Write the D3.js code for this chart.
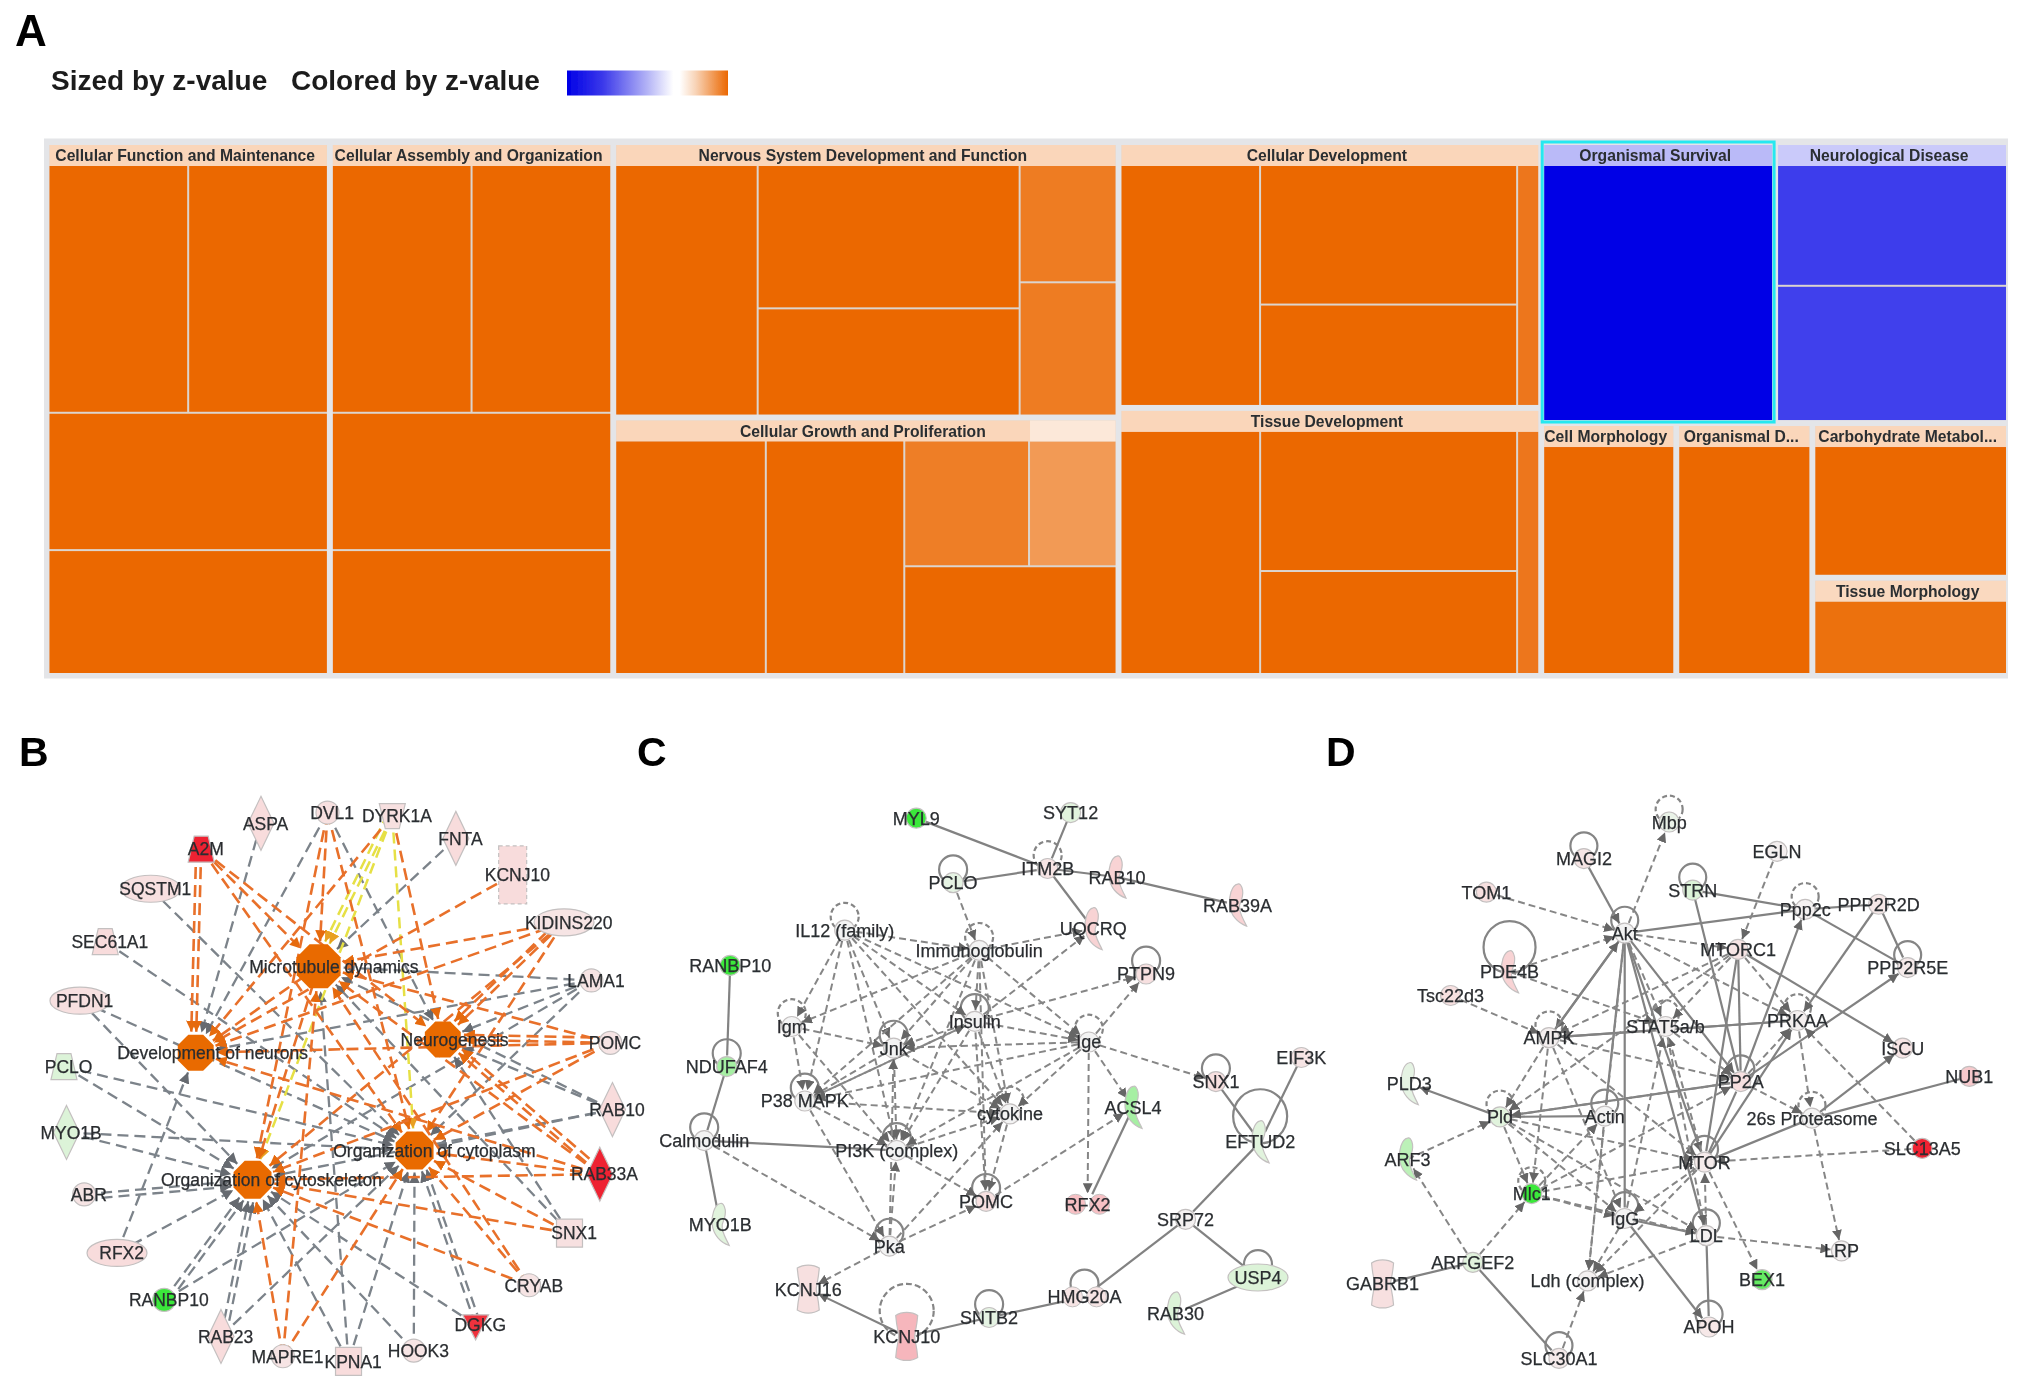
<!DOCTYPE html>
<html><head><meta charset="utf-8">
<script src="https://cdnjs.cloudflare.com/ajax/libs/d3/7.8.5/d3.min.js"></script>
<style>html,body{margin:0;background:#fff}svg{display:block}text{font-family:"Liberation Sans",Arial,sans-serif}</style>
</head><body><svg id="c" width="2031" height="1395"></svg>
<script>
// ---------- Panel A: treemap values ----------
const functionValues   = [69, 69, 76.5, 69];
const assemblyValues   = [69, 69, 76.5, 69];
const nervousValues    = [74.1, 78, 58.3, 23.6, 26.8];
const nervousZ         = [3, 3, 3, 2.6, 2.6];
const growthValues     = [73.5, 67.6, 32.8, 23, 47.8];
const growthZ          = [3, 3, 2.55, 2, 3];
const developmentValues= [70.2, 74.9, 54.4, 11.1];
const tissueValues     = [70.8, 75.1, 55.2, 11.2];
const sliverZ          = 2.7;
const survivalValues   = [123.15];
const neuroValues      = [58.1, 65.05];
const neuroZ           = [-2.3, -2.25];
const cellMorphValues  = [64];
const organismalValues = [64.5];
const carbValues       = [57];
const tissueMorphValues= [36.2];
const tissueMorphZ     = 2.8;
const groupTitles = ["Cellular Function and Maintenance","Cellular Assembly and Organization",
  "Nervous System Development and Function","Cellular Growth and Proliferation","Cellular Development",
  "Tissue Development","Organismal Survival","Neurological Disease","Cell Morphology","Organismal D...",
  "Carbohydrate Metabol...","Tissue Morphology"];

// ---------- Panels B, C, D: node tables [name, layoutX, layoutY, shape, expression, labelDx] ----------
const nodesB = [
 ["A2M",478,300,"trap",1],["ASPA",620,240,"diamond",.3],["DVL1",778,215,"circle",.25],["DYRK1A",932,222,"trapD",.25],
 ["FNTA",1083,275,"diamond",.3],["KCNJ10",1218,360,"dashrect",.3],["SQSTM1",358,392,"ellipse",.25],["KIDINS220",1340,470,"ellipse",.2],
 ["SEC61A1",250,515,"trap",.3],["LAMA1",1405,605,"circle",.2],["PFDN1",190,652,"ellipse",.25],["POMC",1450,750,"circle",.2],
 ["PCLO",152,805,"trap",-.25],["RAB10",1455,905,"diamond",.3],["MYO1B",158,958,"diamond",-.25],["RAB33A",1425,1055,"diamond",1],
 ["ABR",200,1102,"circle",.2],["SNX1",1353,1192,"square",.25],["RFX2",278,1238,"ellipse",.3],["CRYAB",1257,1313,"circle",.2],
 ["RANBP10",390,1347,"circle",-1],["DGKG",1130,1405,"triD",.95],["RAB23",525,1432,"diamond",.3],["MAPRE1",672,1478,"circle",.2],
 ["KPNA1",828,1490,"square",.3],["HOOK3",983,1465,"circle",.2]];
const hubsB = [
 ["Microtubule dynamics",757,572,"hub",22,36],["Development of neurons",465,773,"hub",18,40],["Neurogenesis",1052,742,"hub",18,28],
 ["Organization of cytoplasm",985,1000,"hub",19,47],["Organization of cytoskeleton",600,1068,"hub",19,45]];
const [MD,DN,NG,OC,OS] = hubsB.map(h=>h[0]);
const orangeB = [
 ["A2M",DN],["A2M",DN],["A2M",MD],["A2M",NG],["A2M",OC],["DVL1",MD],["DVL1",OC],["DVL1",OS],["DYRK1A",DN],["DYRK1A",NG],
 ["KCNJ10",DN],["KIDINS220",MD],["KIDINS220",DN],["KIDINS220",NG],["KIDINS220",NG],["KIDINS220",OC],["KIDINS220",OS],
 ["POMC",MD],["POMC",DN],["POMC",NG],["POMC",NG],["POMC",OC],["POMC",OS],["RAB33A",MD],["RAB33A",NG],["RAB33A",NG],["RAB33A",DN],["RAB33A",OC],["RAB33A",OS],
 ["SNX1",OC],["SNX1",OS],["CRYAB",MD],["CRYAB",OC],["CRYAB",OS],["MAPRE1",MD],["MAPRE1",OC],["MAPRE1",OS],
 [MD,OS],[MD,DN]];
const yellowB = [["DYRK1A",MD],["DYRK1A",OS],["DYRK1A",OC],["DYRK1A",MD]];
const greyB = [
 ["ASPA",DN],["FNTA",MD],["SQSTM1",OC],["SEC61A1",OC],["LAMA1",MD],["LAMA1",DN],["LAMA1",NG],["LAMA1",OC],["LAMA1",OS],
 ["PFDN1",OS],["PFDN1",OC],["PCLO",OS],["PCLO",OC],["RAB10",NG],["RAB10",MD],["RAB10",OC],["RAB10",OS],["MYO1B",OS],["MYO1B",OC],
 ["ABR",OS],["ABR",OS],["RFX2",DN],["RFX2",OS],["RANBP10",OS],["RANBP10",OS],["RANBP10",OC],["DGKG",OC],["DGKG",OC],["DGKG",OS],
 ["RAB23",OS],["RAB23",OS],["RAB23",OC],["KPNA1",OS],["KPNA1",OC],["KPNA1",MD],["HOOK3",OC],["HOOK3",OS],["SNX1",MD],["SNX1",NG],["DVL1",DN],["DVL1",NG]];

const nodesC = [
 ["MYL9",637,228,"circle",-1],["SYT12",993,215,"circle",-.2],["ITM2B",940,345,"circle",.2],["PCLO",722,378,"circle",-.15],
 ["RAB10",1100,365,"crescent",.35],["RAB39A",1378,430,"crescent",.35],["IL12 (family)",472,488,"circle",0],["Immunoglobulin",782,535,"circle",0],
 ["UQCRQ",1045,485,"crescent",.35],["RANBP10",208,570,"circle",-1],["PTPN9",1167,590,"circle",.25],["Igm",350,712,"circle",0],
 ["Insulin",772,700,"circle",0],["Jnk",585,762,"circle",0],["Ige",1035,748,"circle",0],["NDUFAF4",200,805,"circle",-.5],
 ["SNX1",1328,840,"circle",.25],["EIF3K",1525,784,"circle",.2],["P38 MAPK",380,885,"circle",0],["cytokine",853,915,"circle",0],
 ["ACSL4",1137,900,"crescent",-.5],["Calmodulin",148,977,"circle",0],["PI3K (complex)",592,1000,"circle",0],["EFTUD2",1430,980,"crescent",-.2],
 ["POMC",798,1118,"circle",.25],["RFX2",1032,1125,"double",.45],["MYO1B",185,1172,"crescent",-.2],["SRP72",1258,1160,"circle",.03],
 ["Pka",575,1222,"circle",0],["KCNJ16",388,1322,"hourglass",.25],["USP4",1425,1295,"ellipse",-.25],["HMG20A",1025,1340,"double",.2],
 ["SNTB2",805,1388,"circle",-.15],["RAB30",1235,1378,"crescent",-.25],["KCNJ10",615,1432,"hourglass",.5]];
const linksC = [["MYL9","ITM2B"],["SYT12","ITM2B"],["PCLO","ITM2B"],["ITM2B","RAB10"],["RAB10","RAB39A"],["ITM2B","UQCRQ"],
 ["RANBP10","NDUFAF4"],["NDUFAF4","Calmodulin"],["Calmodulin","MYO1B"],["Calmodulin","PI3K (complex)"],["SNX1","EFTUD2"],["EIF3K","EFTUD2"],
 ["EFTUD2","SRP72"],["SRP72","HMG20A"],["SRP72","USP4"],["USP4","RAB30"],["HMG20A","SNTB2"],["SNTB2","KCNJ10"],["ACSL4","RFX2"]];
const solidArrowsC = [["KCNJ10","KCNJ16"]];
const dashedC = [["PCLO","Immunoglobulin"],["Immunoglobulin","UQCRQ"],["IL12 (family)","Immunoglobulin"],["Insulin","UQCRQ"],
 ["IL12 (family)","Igm"],["IL12 (family)","Jnk"],["IL12 (family)","Insulin"],["IL12 (family)","P38 MAPK"],["IL12 (family)","PI3K (complex)"],["IL12 (family)","cytokine"],["IL12 (family)","Ige"],
 ["Immunoglobulin","Igm"],["Immunoglobulin","Jnk"],["Immunoglobulin","Insulin"],["Immunoglobulin","P38 MAPK"],["Immunoglobulin","PI3K (complex)"],["Immunoglobulin","cytokine"],["Immunoglobulin","Ige"],["Immunoglobulin","POMC"],
 ["Insulin","Jnk"],["Insulin","P38 MAPK"],["Insulin","PI3K (complex)"],["Insulin","cytokine"],["Insulin","POMC"],["Insulin","PTPN9"],["Insulin","Ige"],
 ["Ige","PTPN9"],["Ige","SNX1"],["Ige","ACSL4"],["Ige","RFX2"],["Ige","cytokine"],["Ige","Jnk"],["Ige","P38 MAPK"],["Ige","PI3K (complex)"],
 ["Igm","Jnk"],["Igm","P38 MAPK"],["Igm","PI3K (complex)"],["Jnk","P38 MAPK"],["Jnk","PI3K (complex)"],["Jnk","cytokine"],["Pka","Jnk"],
 ["P38 MAPK","PI3K (complex)"],["P38 MAPK","cytokine"],["P38 MAPK","Pka"],["PI3K (complex)","cytokine"],["Pka","PI3K (complex)"],["PI3K (complex)","POMC"],
 ["cytokine","POMC"],["Pka","cytokine"],["Pka","POMC"],["Pka","KCNJ16"],["Calmodulin","Pka"],["POMC","ACSL4"],["P38 MAPK","Insulin"]];
const solidLoopsC = ["PCLO","PTPN9","Insulin","Jnk","NDUFAF4","SNX1","P38 MAPK","Calmodulin","PI3K (complex)","POMC","Pka","USP4","HMG20A","SNTB2"];
const dashedLoopsC = ["ITM2B","IL12 (family)","Immunoglobulin","Igm","Ige","cytokine"];
const bigSolidLoopsC = ["EFTUD2"];
const bigDashedLoopsC = ["KCNJ10"];

const nodesD = [
 ["Mbp",770,237,"circle",-.1],["MAGI2",582,322,"circle",.2],["EGLN",1008,305,"circle",.05],["TOM1",367,400,"circle",.25],
 ["STRN",822,395,"circle",-.25],["Ppp2c",1070,440,"circle",.03],["PPP2R2D",1232,428,"circle",.15],["Akt",672,495,"circle",0],
 ["MTORC1",922,533,"circle",.2],["PDE4B",418,585,"crescent",.35],["PPP2R5E",1296,575,"circle",.12],["Tsc22d3",288,640,"circle",.25],
 ["AMPK",505,738,"circle",.05],["STAT5a/b",762,712,"circle",.03],["PRKAA",1053,698,"circle",.05],["ISCU",1285,762,"circle",.2],
 ["PLD3",197,845,"crescent",-.15],["PP2A",928,840,"circle",.25],["NUB1",1432,828,"circle",.4],["Pld",397,922,"circle",-.2],
 ["Actin",628,920,"circle",0],["26s Proteasome",1085,925,"circle",0],["ARF3",193,1020,"crescent",-.4],["MTOR",848,1027,"circle",.1],
 ["SLC13A5",1328,995,"circle",1],["Mlc1",467,1100,"circle",-1],["IgG",672,1158,"circle",0],["LDL",852,1198,"circle",.03],
 ["LRP",1150,1233,"circle",.03],["ARFGEF2",337,1260,"circle",-.2],["BEX1",975,1300,"circle",-.8],["Ldh (complex)",590,1303,"circle",.03],
 ["GABRB1",138,1310,"hourglass",.25],["APOH",858,1410,"circle",.15],["SLC30A1",527,1483,"circle",.12]];
const linksD = [["Akt","Ppp2c"],["STRN","Ppp2c"],["Ppp2c","PPP2R2D"],["Ppp2c","PPP2R5E"],["PPP2R2D","PPP2R5E"],["STRN","PP2A"],
 ["MTORC1","PP2A"],["MTORC1","MTOR"],["NUB1","26s Proteasome"],["Akt","IgG"],["Pld","Actin"],["Pld","PP2A"],["MTOR","26s Proteasome"],
 ["MTOR","PP2A"],["IgG","LDL"],["LDL","APOH"],["ARFGEF2","GABRB1"],["ARFGEF2","SLC30A1"],["Akt","LDL"],["Akt","Actin"],["AMPK","PRKAA"]];
const solidArrowsD = [["MAGI2","Akt"],["PP2A","Ppp2c"],["PPP2R2D","PRKAA"],["PP2A","PPP2R5E"],["MTORC1","ISCU"],["26s Proteasome","ISCU"],
 ["Akt","MTOR"],["Akt","PP2A"],["Akt","AMPK"],["PRKAA","AMPK"],["Pld","PLD3"],["MTOR","PRKAA"],["IgG","APOH"],["AMPK","Akt"]];
const dashedD = [["Akt","Mbp"],["TOM1","Akt"],["EGLN","MTORC1"],["PDE4B","Akt"],["Tsc22d3","AMPK"],["PDE4B","STAT5a/b"],["Akt","MTORC1"],
 ["Akt","STAT5a/b"],["Akt","PRKAA"],["Akt","Ldh (complex)"],["MTORC1","AMPK"],["MTORC1","Pld"],["MTORC1","PRKAA"],["PP2A","PRKAA"],
 ["AMPK","Pld"],["AMPK","Mlc1"],["AMPK","PP2A"],["AMPK","MTOR"],["AMPK","IgG"],["Pld","Mlc1"],["Pld","MTOR"],["Pld","IgG"],["Pld","LDL"],
 ["PP2A","Pld"],["Mlc1","MTOR"],["Mlc1","PP2A"],["Mlc1","IgG"],["Mlc1","LDL"],["Mlc1","Actin"],["IgG","STAT5a/b"],["MTOR","Ldh (complex)"],
 ["IgG","Ldh (complex)"],["LDL","Ldh (complex)"],["Actin","Ldh (complex)"],["SLC30A1","Ldh (complex)"],["SLC13A5","MTOR"],["SLC13A5","PRKAA"],
 ["26s Proteasome","LRP"],["LDL","LRP"],["MTOR","BEX1"],["PP2A","26s Proteasome"],["PRKAA","26s Proteasome"],["MTOR","STAT5a/b"],
 ["ARFGEF2","ARF3"],["ARFGEF2","Mlc1"],["ARF3","Pld"],["STAT5a/b","PP2A"],["MTOR","IgG"],["LDL","MTOR"],["STAT5a/b","LDL"],["MTORC1","STAT5a/b"]];
const solidLoopsD = ["MAGI2","STRN","Akt","PPP2R5E","PP2A","Actin","MTOR","IgG","LDL","APOH","SLC30A1"];
const dashedLoopsD = ["Mbp","Ppp2c","AMPK","STAT5a/b","PRKAA","Pld","26s Proteasome","Mlc1"];
const bigSolidLoopsD = ["PDE4B"];

// ---------- Drawing ----------
const svg = d3.select("#c");
const defs = svg.append("defs");
const addBlur=(id,sd)=>defs.append("filter").attr("id",id).attr("filterUnits","userSpaceOnUse")
  .attr("x",0).attr("y",0).attr("width",2031).attr("height",1395)
  .append("feGaussianBlur").attr("stdDeviation",sd);
addBlur("soft",0.7); addBlur("softText",0.4);
const lg = defs.append("linearGradient").attr("id","zgrad");
[[0,"#0000e6"],[.22,"#3a38ea"],[.5,"#b4b4f6"],[.66,"#ffffff"],[.7,"#ffffff"],[.8,"#f8d3b6"],[1,"#eb6700"]]
  .forEach(([o,c])=>lg.append("stop").attr("offset",o).attr("stop-color",c));
const root = svg.append("g").attr("filter","url(#soft)");
const textLayer = svg.append("g").attr("filter","url(#softText)");
root.append("rect").attr("width",2031).attr("height",1395).attr("fill","#fff");

const zColor = d3.scaleLinear().domain([-3,0,3]).range(["#0000e6","#ffffff","#eb6700"]);
const exprColor = d3.scaleLinear().domain([-1,-.25,0,.3,.5,1]).range(["#3ae83a","#dcf3d8","#f3f3f3","#f8dcdc","#f6b6bc","#ee2430"]);

// Panel letters & legend
[["A",15,46,44],["B",19,766,41],["C",637,766,41],["D",1326,766,41]].forEach(([t,x,y,s])=>
  textLayer.append("text").attr("x",x).attr("y",y).attr("font-size",s).attr("font-weight",700).attr("fill","#000").text(t));
[["Sized by z-value",51],["Colored by z-value",291]].forEach(([t,x])=>
  textLayer.append("text").attr("x",x).attr("y",90).attr("font-size",28).attr("font-weight",700).attr("fill","#1c1c1c").text(t));
root.append("rect").attr("x",567).attr("y",70.5).attr("width",161).attr("height",25).attr("fill","url(#zgrad)");

// Treemap
const leaf=(value,z=3)=>({value,z});
const leaves=(vals,zs)=>vals.map((v,i)=>leaf(v,zs?zs[i]:3));
const dice=(...children)=>({dir:"dice",children});
const slice=(...children)=>({dir:"slice",children});
const group=(name,dir,children)=>({name,dir,children});
const [f,a,n,g,d,t,sv,ne]=[leaves(functionValues),leaves(assemblyValues),leaves(nervousValues,nervousZ),leaves(growthValues,growthZ),
  leaves(developmentValues,[3,3,3,sliverZ]),leaves(tissueValues,[3,3,3,sliverZ]),leaves(survivalValues,[-3]),leaves(neuroValues,neuroZ)];
g[3].fade=true;
const tree = dice(
  group(groupTitles[0],"slice",[dice(f[0],f[1]),f[2],f[3]]),
  group(groupTitles[1],"slice",[dice(a[0],a[1]),a[2],a[3]]),
  slice(
    group(groupTitles[2],"dice",[n[0],slice(n[1],n[2]),slice(n[3],n[4])]),
    group(groupTitles[3],"dice",[g[0],g[1],slice(dice(g[2],g[3]),g[4])])),
  slice(
    group(groupTitles[4],"dice",[d[0],slice(d[1],d[2]),d[3]]),
    group(groupTitles[5],"dice",[t[0],slice(t[1],t[2]),t[3]])),
  slice(
    dice(group(groupTitles[6],"dice",sv),group(groupTitles[7],"slice",ne)),
    dice(group(groupTitles[8],"dice",leaves(cellMorphValues)),group(groupTitles[9],"dice",leaves(organismalValues)),
      slice(group(groupTitles[10],"dice",leaves(carbValues)),group(groupTitles[11],"dice",leaves(tissueMorphValues,[tissueMorphZ]))))));
const h = d3.hierarchy(tree).sum(x=>x.value||0);
const inGroup = nd=>nd.ancestors().some(x=>x.data.name);
d3.treemap().size([1956.5,528])
  .tile((nd,x0,y0,x1,y1)=>(nd.data.dir==="slice"?d3.treemapSlice:d3.treemapDice)(nd,x0,y0,x1,y1))
  .paddingInner(nd=>inGroup(nd)?2:6)
  .paddingTop(nd=>nd.data.name?21:0)(h);
root.append("rect").attr("x",44).attr("y",138.5).attr("width",1964).attr("height",540).attr("fill","#e4e5e8");
const tm = root.append("g").attr("transform","translate(49.5,145)");
const groups = h.descendants().filter(x=>x.data.name);
tm.selectAll("rect.bg").data(groups).join("rect").attr("class","bg")
  .attr("x",x=>x.x0).attr("y",x=>x.y0).attr("width",x=>x.x1-x.x0).attr("height",x=>x.y1-x.y0).attr("fill","#dcd5ce");
const groupZ = nd=>nd.leaves()[0].data.z;
tm.selectAll("rect.head").data(groups).join("rect").attr("class","head")
  .attr("x",x=>x.x0).attr("y",x=>x.y0).attr("width",x=>x.x1-x.x0).attr("height",21)
  .attr("fill",x=>d3.interpolateRgb("#ffffff",zColor(groupZ(x)))(.27));
tm.selectAll("rect.leaf").data(h.leaves()).join("rect").attr("class","leaf")
  .attr("x",x=>x.x0).attr("y",x=>x.y0).attr("width",x=>x.x1-x.x0).attr("height",x=>x.y1-x.y0).attr("fill",x=>zColor(x.data.z));
const faded = h.leaves().filter(x=>x.data.fade);
tm.selectAll("rect.fade").data(faded).join("rect").attr("class","fade")
  .attr("x",x=>x.x0).attr("y",x=>x.ancestors().find(p=>p.data.name).y0).attr("width",x=>x.x1-x.x0).attr("height",21).attr("fill","#fff").attr("opacity",.45);
textLayer.append("g").attr("transform","translate(49.5,145)").selectAll("text").data(groups).join("text")
  .attr("x",x=>(x.x0+x.x1)/2-3).attr("y",x=>x.y0+16.2).attr("text-anchor","middle")
  .attr("font-size",15.7).attr("font-weight",700).attr("fill","#2a2e30").text(x=>x.data.name);
const surv = groups.find(x=>x.data.name==="Organismal Survival");
tm.append("rect").attr("x",surv.x0-2).attr("y",surv.y0-3).attr("width",surv.x1-surv.x0+4).attr("height",surv.y1-surv.y0+5)
  .attr("fill","none").attr("stroke","#28e8f0").attr("stroke-width",3);

// Network helper
const polygon=pts=>"M"+pts.map(p=>p.join(",")).join("L")+"Z";
const SHAPES = {
  diamond:()=>polygon([[0,-27],[13,0],[0,27],[-13,0]]),
  trap:()=>polygon([[-7,-13],[7,-13],[13,13],[-13,13]]),
  trapD:()=>polygon([[-13,-12],[13,-12],[7,13],[-7,13]]),
  triD:()=>polygon([[-13,-10],[13,-10],[0,15]]),
  square:()=>polygon([[-13,-14],[13,-14],[13,14],[-13,14]]),
  dashrect:()=>polygon([[-14,-29],[14,-29],[14,29],[-14,29]]),
  crescent:()=>"M0,-21C-6,-20-9,-8-8,0C-7,10 0,18 9,21C6,14 1,8 2,0C3,-4 6,-8 5,-15C4,-20 2,-22 0,-21Z",
  hourglass:()=>"M-11,-21C-5,-25 5,-25 11,-21C10,-8 8,-4 8,0C8,4 10,8 11,21C5,25-5,25-11,21C-10,8-8,4-8,0C-8,-4-10,-8-11,-21Z"
};
function network({nodes,left,width,groupsOfEdges,loops,labelDx,fontSize,r,arrow}){
  const x=d3.scaleLinear().domain([0,1568]).range([left,left+width]);
  const y=d3.scaleLinear().domain([0,1568]).range([720,1395]);
  const byName=new Map(nodes.map(nd=>[nd[0],nd]));
  const G=root.append("g");
  loops.forEach(({names,R,dash})=>{
    G.selectAll(null).data(names).join("circle").attr("cx",m=>x(byName.get(m)[1])).attr("cy",m=>y(byName.get(m)[2])-R*.95)
      .attr("r",R).attr("fill","none").attr("stroke","#858585").attr("stroke-width",2.2).attr("stroke-dasharray",dash||null);
  });
  groupsOfEdges.forEach(({edges,color,dash,w,head},k)=>{
    const seen=new Map();
    if(head){
      defs.append("marker").attr("id",`m${left}_${k}`).attr("viewBox","0 0 10 10").attr("refX",10).attr("refY",5)
        .attr("markerUnits","userSpaceOnUse").attr("markerWidth",arrow).attr("markerHeight",arrow).attr("orient","auto")
        .append("path").attr("d","M0,0L10,5L0,10Z").attr("fill",head);
    }
    const lines=edges.map(([s,t])=>{
      const a=byName.get(s),b=byName.get(t);
      const n=seen.get(s+"|"+t)||0; seen.set(s+"|"+t,n+1);
      let x1=x(a[1]),y1=y(a[2]),x2=x(b[1]),y2=y(b[2]);
      const L=Math.hypot(x2-x1,y2-y1),ux=(x2-x1)/L,uy=(y2-y1)/L;
      const off=n*5; x1+=-uy*off;y1+=ux*off;x2+=-uy*off;y2+=ux*off;
      const tr=b[3]==="hub"?b[4]+3:r;
      return {x1,y1,x2:x2-ux*tr,y2:y2-uy*tr};
    });
    G.selectAll(null).data(lines).join("line").attr("x1",l=>l.x1).attr("y1",l=>l.y1).attr("x2",l=>l.x2).attr("y2",l=>l.y2)
      .attr("stroke",color).attr("stroke-width",w).attr("stroke-dasharray",dash||null)
      .attr("marker-end",head?`url(#m${left}_${k})`:null);
  });
  const N=G.selectAll("g.n").data(nodes).join("g").attr("class","n").attr("transform",nd=>`translate(${x(nd[1])},${y(nd[2])})`);
  N.each(function(nd){
    const s=d3.select(this),type=nd[3],fill=type==="hub"?"#e96a00":exprColor(nd[4]);
    const stroke=type==="hub"?"none":"#c4c0c0";
    if(type==="circle") s.append("circle").attr("r",r-1).attr("fill",fill).attr("stroke",stroke).attr("stroke-width",1.2);
    else if(type==="ellipse") s.append("ellipse").attr("rx",30).attr("ry",13.5).attr("fill",fill).attr("stroke",stroke).attr("stroke-width",1.2);
    else if(type==="double"){ [-12,12].forEach(dx=>s.append("circle").attr("cx",dx).attr("r",r-1).attr("fill",fill).attr("stroke",stroke)); }
    else if(type==="hub"){
      const pts=d3.range(8).map(i=>{const an=Math.PI/8+i*Math.PI/4;return [Math.cos(an)*nd[4]*1.08,Math.sin(an)*nd[4]*1.08];});
      s.append("path").attr("d",polygon(pts)).attr("fill",fill);
    }
    else s.append("path").attr("d",SHAPES[type]()).attr("fill",fill).attr("stroke",stroke).attr("stroke-width",1.2)
      .attr("stroke-dasharray",type==="dashrect"?"4 3":null);
  });
  textLayer.append("g").selectAll("text").data(nodes).join("text")
    .attr("x",nd=>x(nd[1]+(nd[3]==="hub"?nd[5]:labelDx))).attr("y",nd=>y(nd[2])+fontSize*.36)
    .attr("text-anchor","middle").attr("font-size",fontSize).attr("fill","#2a2d30").attr("stroke","#2a2d30").attr("stroke-width",.25).text(nd=>nd[0]);
}
network({nodes:[...nodesB,...hubsB],left:0,width:660,labelDx:11,fontSize:17.5,r:12.5,arrow:11,loops:[],
  groupsOfEdges:[
   {edges:greyB,color:"#7c838a",dash:"11 6",w:2.3,head:"#666a70"},
   {edges:yellowB,color:"#e6e044",dash:"11 6",w:2.5,head:"#e8a020"},
   {edges:orangeB,color:"#e8702a",dash:"12 6",w:2.6,head:"#e66a10"}]});
network({nodes:nodesC,left:640,width:680,labelDx:0,fontSize:18,r:11,arrow:10,
  loops:[{names:solidLoopsC,R:14},{names:dashedLoopsC,R:14,dash:"5 3"},{names:bigSolidLoopsC,R:27},{names:bigDashedLoopsC,R:27,dash:"6 3"}],
  groupsOfEdges:[
   {edges:linksC,color:"#828282",w:2.2},
   {edges:solidArrowsC,color:"#828282",w:2.2,head:"#666"},
   {edges:dashedC,color:"#868686",dash:"7 4",w:2,head:"#666"}]});
network({nodes:nodesD,left:1320,width:711,labelDx:0,fontSize:18,r:11,arrow:10,
  loops:[{names:solidLoopsD,R:13.5},{names:dashedLoopsD,R:13.5,dash:"5 3"},{names:bigSolidLoopsD,R:26}],
  groupsOfEdges:[
   {edges:linksD,color:"#828282",w:2.2},
   {edges:solidArrowsD,color:"#828282",w:2.2,head:"#666"},
   {edges:dashedD,color:"#868686",dash:"7 4",w:2,head:"#666"}]});
</script></body></html>
